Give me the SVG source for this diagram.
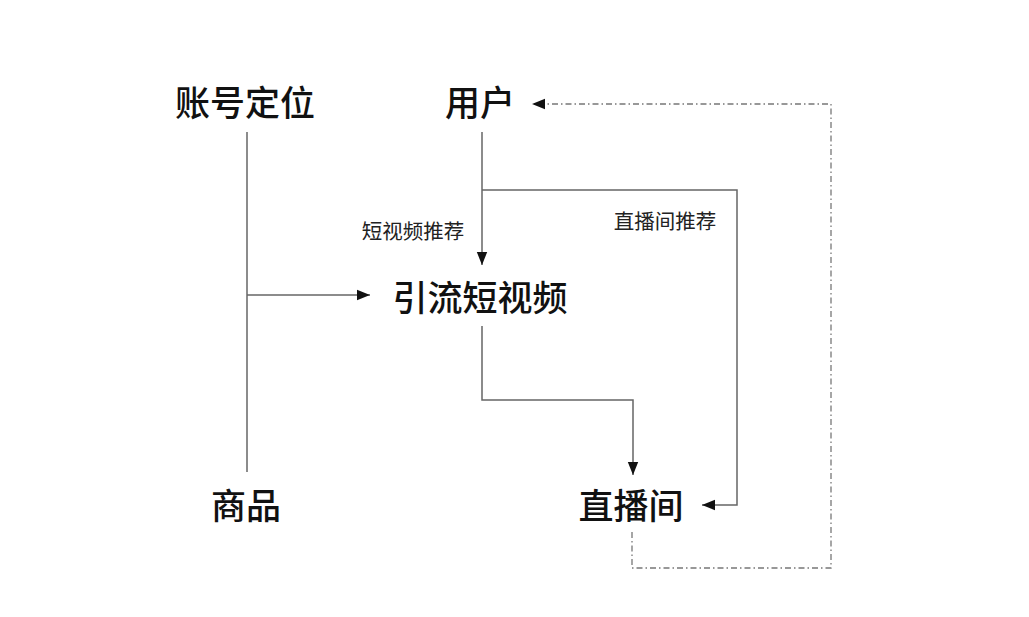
<svg xmlns="http://www.w3.org/2000/svg" width="1029" height="617" viewBox="0 0 1029 617">
<style>
.big{font-family:"Noto Sans CJK SC","Noto Sans",sans-serif;font-size:35px;font-weight:500;fill:#111;text-anchor:middle;dominant-baseline:central}
.sm{font-family:"Noto Sans CJK SC","Noto Sans",sans-serif;font-size:20.5px;fill:#222;text-anchor:middle;dominant-baseline:central}
.ln{fill:none;stroke:#666;stroke-width:1.5}
.dd{fill:none;stroke:#777;stroke-width:1.3;stroke-dasharray:6 3 1.5 3}
</style>
<defs>
<marker id="ah" viewBox="0 0 10 10" refX="10" refY="5" markerWidth="13" markerHeight="13" markerUnits="userSpaceOnUse" orient="auto">
<path d="M0,1 L10,5 L0,9 Z" fill="#111"/>
</marker>
</defs>
<rect width="1029" height="617" fill="#fff"/>
<g id="connectors">
<path class="ln" d="M247,132 V472"/>
<path class="ln" d="M247,295 H370" marker-end="url(#ah)"/>
<path class="ln" d="M482,132 V265" marker-end="url(#ah)"/>
<path class="ln" d="M482,190 H737 V505 H702" marker-end="url(#ah)"/>
<path class="ln" d="M482,326 V400 H633 V475" marker-end="url(#ah)"/>
<path class="dd" d="M632,532 V568 H831 V104 H532" marker-end="url(#ah)"/>
<text class="sm" x="413" y="230">短视频推荐</text>
<text class="sm" x="665" y="220">直播间推荐</text>
</g>
<g id="node-account"><text class="big" x="245" y="100">账号定位</text></g>
<g id="node-user"><text class="big" x="480" y="100">用户</text></g>
<g id="node-video"><text class="big" x="480" y="295">引流短视频</text></g>
<g id="node-goods"><text class="big" x="246" y="503">商品</text></g>
<g id="node-live"><text class="big" x="631" y="503">直播间</text></g>
</svg>
